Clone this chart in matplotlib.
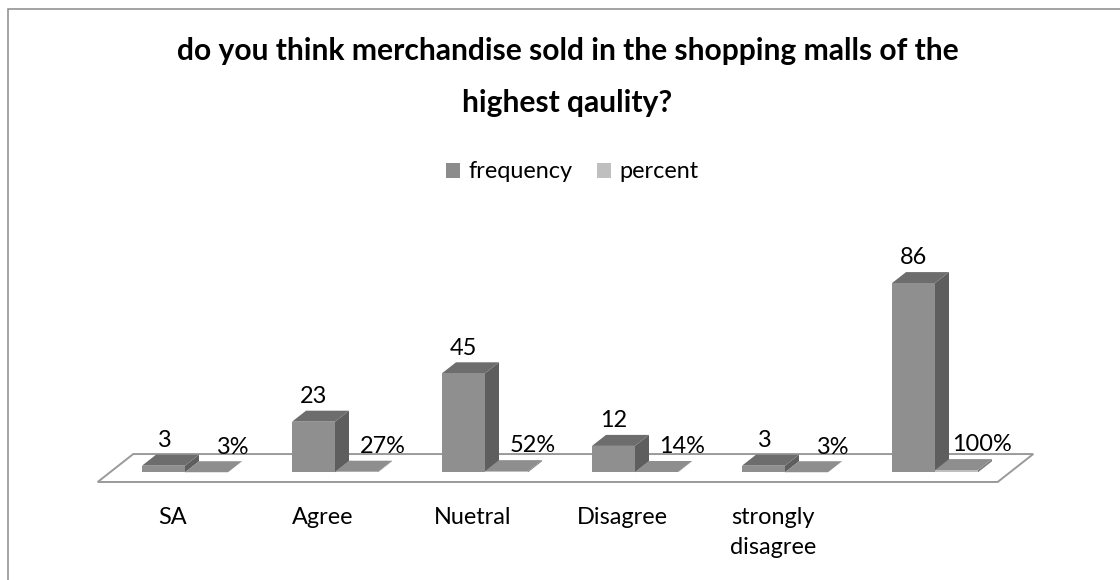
import matplotlib
matplotlib.use("Agg")
import matplotlib.pyplot as plt
from matplotlib.patches import Polygon, Rectangle, Patch

# ---- data -------------------------------------------------------------
categories = ["SA", "Agree", "Nuetral", "Disagree", "strongly\ndisagree", ""]
frequency = [3, 23, 45, 12, 3, 86]
percent = [0.03, 0.27, 0.52, 0.14, 0.03, 1.00]
series_names = ["frequency", "percent"]
title_lines = ["do you think merchandise sold in the shopping malls of the",
               "highest qaulity?"]

# ---- styling ----------------------------------------------------------
FONT = "Lato"
FREQ_COLORS = dict(front="#8f8f8f", top="#6d6d6d", side="#5e5e5e")
PCT_COLORS = dict(front="#bfbfbf", top="#8e8e8e", side="#7c7c7c")
LEGEND_COLORS = ["#8c8c8c", "#bfbfbf"]
FLOOR_EDGE = "#9a9a9a"
FRAME_EDGE = "#8a8a8a"

W, H, DPI = 1120, 580, 100
fig = plt.figure(figsize=(W / DPI, H / DPI), dpi=DPI)
fig.patch.set_facecolor("white")
renderer = fig.canvas.get_renderer()


def fit_size(text, target_px, weight="normal"):
    t = fig.text(0, 0, text, fontsize=20, family=FONT, weight=weight)
    w = t.get_window_extent(renderer).width
    t.remove()
    return 20.0 * target_px / w


body_size = fit_size("Disagree", 91)
title_size = fit_size(title_lines[0], 781, weight="bold")

# ---- axes: one category = 150 px, one value unit = 2.2 px ---------------
X0, XS = 185.0, 150.0      # pixel column of x = 0, pixels per category
Y0, YS = 472.3, 2.2        # pixel row of value 0, pixels per value unit
ax = fig.add_axes([0, 0, 1, 1])
ax.set_xlim((0 - X0) / XS, (W - X0) / XS)
ax.set_ylim((Y0 - H) / YS, Y0 / YS)
ax.axis("off")

# oblique depth vector of one bar depth, in data units
DX, DY = 14.0 / XS, 11.0 / YS
BW = 43.0 / XS                     # bar width
FLOOR_FRONT, FLOOR_BACK = -0.88, 1.66   # floor depth range in bar depths


def depth(x, y, d):
    return (x + d * DX, y + d * DY)


# floor
n = len(categories)
floor = [depth(-0.5, 0, FLOOR_FRONT), depth(n - 0.5, 0, FLOOR_FRONT),
         depth(n - 0.5, 0, FLOOR_BACK), depth(-0.5, 0, FLOOR_BACK)]
ax.add_patch(Polygon(floor, closed=True, facecolor="white",
                     edgecolor=FLOOR_EDGE, lw=1.4, zorder=1))


def bar3d(x0, x1, h, colors, z):
    front = [(x0, 0), (x1, 0), (x1, h), (x0, h)]
    top = [(x0, h), (x1, h), depth(x1, h, 1), depth(x0, h, 1)]
    side = [(x1, 0), depth(x1, 0, 1), depth(x1, h, 1), (x1, h)]
    for pts, key in ((side, "side"), (top, "top"), (front, "front")):
        ax.add_patch(Polygon(pts, closed=True, facecolor=colors[key],
                             edgecolor="none", zorder=z))


label_gap = 3.5   # value units between bar top (back edge) and label baseline
for i, (f, p) in enumerate(zip(frequency, percent)):
    bar3d(i - BW, i, f, FREQ_COLORS, 2 + i)
    bar3d(i, i + BW, p, PCT_COLORS, 2 + i)
    ax.text(i - BW / 2, f + DY + label_gap, f"{f:g}", ha="center",
            va="baseline", fontsize=body_size, family=FONT, zorder=20)
    ax.text(i + BW / 2 + 26.0 / XS, p + DY + label_gap, f"{p:.0%}",
            ha="center", va="baseline", fontsize=body_size, family=FONT,
            zorder=20)

# category labels under the floor
line_step = 30.0 / YS
label_base = (Y0 - 524.0) / YS
for i, cat in enumerate(categories):
    cx = i + FLOOR_FRONT * DX
    for k, line in enumerate(cat.split("\n")):
        ax.text(cx, label_base - k * line_step, line, ha="center",
                va="baseline", fontsize=body_size, family=FONT)

# title
fig.text(567.5 / W, 1 - 60.0 / H, title_lines[0], ha="center", va="baseline",
         fontsize=title_size, weight="bold", family=FONT)
fig.text(567.5 / W, 1 - 112.0 / H, title_lines[1], ha="center",
         va="baseline", fontsize=title_size, weight="bold", family=FONT)

# legend
handles = [Patch(facecolor=c, edgecolor="none") for c in LEGEND_COLORS]
fig.legend(handles, series_names, loc="center",
           bbox_to_anchor=(572.5 / W, 1 - 172.0 / H), ncol=2, frameon=False,
           prop=dict(family=FONT, size=body_size), handlelength=0.6,
           handleheight=0.6, handletextpad=0.35, columnspacing=1.05,
           borderpad=0, borderaxespad=0)

# outer chart frame (runs past the right and bottom edges)
fig.add_artist(Rectangle((8.0 / W, -0.2), (1127.0 - 8.0) / W,
                         1.2 - 9.0 / H, transform=fig.transFigure,
                         fill=False, edgecolor=FRAME_EDGE, lw=1.1,
                         clip_on=False))

fig.savefig("out.png", dpi=DPI, facecolor="white")
